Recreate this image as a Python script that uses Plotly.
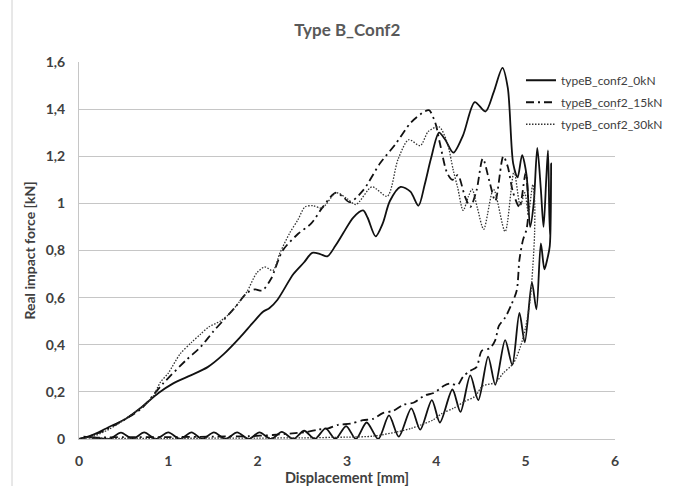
import plotly.graph_objects as go

# ---- data ----
names = ["typeB_conf2_0kN", "typeB_conf2_15kN", "typeB_conf2_30kN"]

x_0kN = [0.00, 0.10, 0.20, 0.33, 0.52, 0.70, 0.89, 1.05, 1.25, 1.44, 1.62, 1.80, 1.95, 2.06, 2.13, 2.22,
         2.40, 2.52, 2.61, 2.70, 2.78, 2.87, 2.96, 3.07, 3.18, 3.23, 3.32, 3.40, 3.48, 3.60, 3.71, 3.80,
         3.87, 3.94, 4.03, 4.10, 4.19, 4.30, 4.43, 4.55, 4.64, 4.74, 4.80, 4.86, 4.91, 4.96, 5.01, 5.05,
         5.09, 5.13, 5.17, 5.20, 5.23, 5.25, 5.265, 5.275, 5.285, 5.27,
         5.24, 5.21, 5.17, 5.12, 5.07, 4.99, 4.93, 4.85, 4.77, 4.66, 4.58, 4.47, 4.38, 4.27, 4.18, 4.04,
         3.95, 3.82, 3.72, 3.58, 3.47, 3.35, 3.22, 3.10, 2.99, 2.87, 2.76, 2.64, 2.52, 2.40, 2.27, 2.15,
         2.02, 1.90, 1.77, 1.64, 1.51, 1.38, 1.26, 1.13, 1.00, 0.86, 0.73, 0.60, 0.47, 0.34, 0.20, 0.05]
y_0kN = [0.000, 0.010, 0.025, 0.050, 0.085, 0.135, 0.195, 0.235, 0.270, 0.305, 0.360, 0.430, 0.495, 0.540, 0.555, 0.590,
         0.700, 0.750, 0.790, 0.785, 0.775, 0.820, 0.875, 0.940, 0.970, 0.940, 0.860, 0.915, 1.010, 1.070, 1.050, 0.990,
         1.080, 1.190, 1.300, 1.270, 1.215, 1.290, 1.430, 1.390, 1.470, 1.575, 1.490, 1.170, 1.110, 1.205, 1.120, 0.900,
         1.000, 1.235, 1.060, 0.900, 1.100, 1.225, 0.950, 0.850, 1.170, 0.820,
         0.760, 0.720, 0.830, 0.550, 0.665, 0.410, 0.535, 0.315, 0.420, 0.230, 0.350, 0.165, 0.270, 0.115, 0.210, 0.070,
         0.165, 0.040, 0.130, 0.010, 0.100, 0.000, 0.070, 0.000, 0.055, 0.000, 0.045, 0.000, 0.035, 0.000, 0.030, 0.000,
         0.028, 0.000, 0.028, 0.000, 0.028, 0.000, 0.028, 0.000, 0.028, 0.000, 0.028, 0.000, 0.027, 0.000, 0.005, 0.010]

x_15kN = [0.00, 0.15, 0.33, 0.52, 0.70, 0.94, 1.20, 1.36, 1.50, 1.62, 1.75, 1.88, 1.97, 2.05, 2.15, 2.28,
          2.45, 2.60, 2.73, 2.87, 2.95, 3.03, 3.18, 3.37, 3.54, 3.72, 3.87, 3.92, 3.99, 4.04, 4.12, 4.18,
          4.24, 4.32, 4.38, 4.45, 4.52, 4.60, 4.66, 4.75, 4.80, 4.86, 4.93, 5.00, 5.03, 5.01,
          4.97, 4.93, 4.90, 4.84, 4.77, 4.70, 4.66, 4.60, 4.51, 4.45, 4.38, 4.30, 4.24, 4.15, 4.08, 3.97,
          3.87, 3.75, 3.63, 3.52, 3.40, 3.29, 3.18, 3.04, 2.90, 2.79, 2.68, 2.55, 2.42, 2.17, 1.90, 1.50,
          1.00, 0.50, 0.10]
y_15kN = [0.000, 0.015, 0.045, 0.085, 0.130, 0.235, 0.335, 0.390, 0.455, 0.505, 0.560, 0.620, 0.635, 0.630, 0.680, 0.800,
          0.870, 0.915, 0.985, 1.045, 1.030, 1.005, 1.055, 1.170, 1.250, 1.345, 1.390, 1.395, 1.340, 1.255, 1.130, 1.100,
          1.120, 1.030, 0.985, 1.055, 1.190, 1.085, 1.010, 1.200, 1.155, 1.045, 0.985, 1.130, 0.970, 0.890,
          0.845, 0.760, 0.630, 0.570, 0.515, 0.480, 0.420, 0.385, 0.375, 0.305, 0.290, 0.265, 0.230, 0.235, 0.225, 0.195,
          0.185, 0.155, 0.145, 0.120, 0.110, 0.085, 0.080, 0.065, 0.060, 0.045, 0.040, 0.030, 0.025, 0.017, 0.012, 0.010,
          0.008, 0.008, 0.005]

x_30kN = [0.00, 0.15, 0.33, 0.52, 0.70, 0.82, 0.91, 1.00, 1.13, 1.26, 1.36, 1.45, 1.58, 1.68, 1.78, 1.88,
          1.99, 2.08, 2.17, 2.25, 2.36, 2.45, 2.53, 2.62, 2.72, 2.88, 3.00, 3.10, 3.28, 3.45, 3.57, 3.69,
          3.82, 3.91, 4.03, 4.12, 4.19, 4.24, 4.30, 4.36, 4.40, 4.46, 4.53, 4.64, 4.77, 4.87, 4.94, 4.99,
          5.03, 5.08, 5.10, 5.10,
          5.08, 5.05, 5.00, 4.94, 4.86, 4.75, 4.66, 4.52, 4.43, 4.32, 4.19, 4.07, 3.96, 3.87, 3.72, 3.56,
          3.29, 3.00, 2.50, 2.00, 1.00, 0.30, 0.05]
y_30kN = [0.000, 0.010, 0.040, 0.085, 0.135, 0.175, 0.240, 0.280, 0.360, 0.410, 0.445, 0.475, 0.500, 0.530, 0.575, 0.625,
          0.705, 0.730, 0.715, 0.790, 0.875, 0.930, 0.985, 0.990, 0.980, 1.045, 1.020, 0.995, 1.070, 1.030, 1.185, 1.270,
          1.245, 1.305, 1.325, 1.260, 1.140, 1.065, 0.970, 1.030, 1.060, 0.980, 0.890, 1.060, 0.880, 1.135, 0.990, 1.045,
          0.960, 1.080, 1.015, 0.875,
          0.730, 0.590, 0.475, 0.390, 0.320, 0.280, 0.240, 0.225, 0.180, 0.160, 0.130, 0.110, 0.080, 0.066, 0.045, 0.030,
          0.012, 0.008, 0.005, 0.004, 0.003, 0.003, 0.005]

x_ticks = [0, 1, 2, 3, 4, 5, 6]
y_ticks = [0, 0.2, 0.4, 0.6, 0.8, 1.0, 1.2, 1.4, 1.6]
y_ticklabels = ["0", "0,2", "0,4", "0,6", "0,8", "1", "1,2", "1,4", "1,6"]

FONT = "Lato, 'Open Sans', sans-serif"
TXT = "#404040"
GRID = "#c6c6c6"

fig = go.Figure()
series = [
    (x_0kN, y_0kN, dict(color="#111111", width=1.8, dash="solid")),
    (x_15kN, y_15kN, dict(color="#111111", width=1.8, dash="8px,4px,2px,4px")),
    (x_30kN, y_30kN, dict(color="#333333", width=1.3, dash="1.5px,1.5px")),
]
for i, (xs, ys, ln) in enumerate(series):
    fig.add_trace(go.Scatter(
        x=xs, y=ys, mode="lines", name=names[i], legendgroup=names[i],
        line=dict(shape="spline", smoothing=0.8, **ln),
        hoverinfo="skip",
    ))

fig.update_layout(
    width=681, height=486,
    margin=dict(l=79, r=66, t=62, b=47),
    paper_bgcolor="white", plot_bgcolor="white",
    font=dict(family=FONT, color=TXT),
    separators=",.",
    title=dict(text="<b>Type B_Conf2</b>", x=0.51, xanchor="center", y=1 - 30 / 486, yanchor="middle",
               font=dict(family=FONT, size=17, color="#595959")),
    showlegend=True,
    legend=dict(x=0.8246, y=0.99, xanchor="left", yanchor="top", bgcolor="rgba(0,0,0,0)",
                font=dict(family=FONT, size=12, color=TXT), traceorder="grouped",
                tracegroupgap=3, itemwidth=30),
    xaxis=dict(range=[0, 6], tickvals=x_ticks, showgrid=False, zeroline=False,
               showline=True, linecolor=GRID, linewidth=1,
               ticks="outside", ticklen=9, tickcolor="rgba(0,0,0,0)",
               tickfont=dict(family=FONT, size=14, color=TXT, weight="bold"),
               title=dict(text="Displacement [mm]", standoff=1,
                          font=dict(family=FONT, size=14.5, color=TXT, weight="bold")),
               automargin=False),
    yaxis=dict(range=[0, 1.6], tickvals=y_ticks, ticktext=y_ticklabels, showgrid=True, gridcolor=GRID,
               gridwidth=1, zeroline=False, showline=True, linecolor=GRID, linewidth=1,
               ticks="outside", ticklen=10, tickcolor="rgba(0,0,0,0)",
               tickfont=dict(family=FONT, size=14, color=TXT, weight="bold"),
               title=dict(text="Real impact force [kN]", standoff=6,
                          font=dict(family=FONT, size=14, color=TXT, weight="bold")),
               automargin=False),
)

# light chart-area border on the left edge
fig.add_shape(type="line", xref="paper", yref="paper", x0=-0.125, x1=-0.125, y0=-0.2, y1=1.2,
              line=dict(color="#d0d0d0", width=1))

fig.write_html("out.html", config={"displayModeBar": False},
               post_script="document.body.style.margin='0';document.body.style.overflow='hidden';")
